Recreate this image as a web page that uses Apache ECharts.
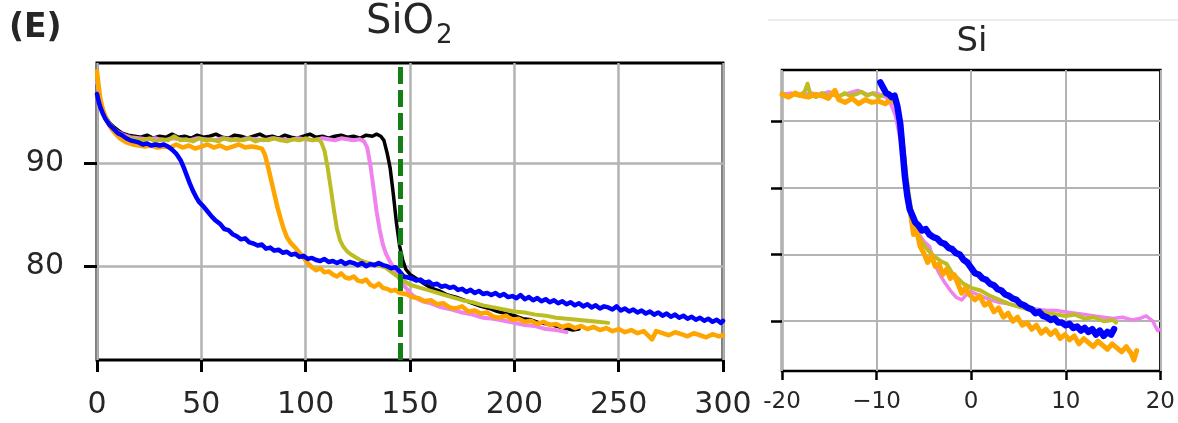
<!DOCTYPE html>
<html>
<head>
<meta charset="utf-8">
<script src="https://cdn.jsdelivr.net/npm/echarts@6/dist/echarts.min.js"></script>
<style>
  html, body { margin: 0; padding: 0; background: #fff; }
  #chart { width: 1178px; height: 423px; }
</style>
</head>
<body>
<div id="chart"></div>
<script>
// SiO2 panel (left) - [time, value]
const sio2Black = [[0,97.6],[1,96.2],[2,95.4],[4,94.5],[6,93.9],[8,93.5],[10,93.2],[12,92.9],[15,92.7],[18,92.6],[21,92.5],[24,92.7],[27,92.4],[30,92.6],[33,92.5],[36,92.8],[39,92.5],[42,92.6],[45,92.4],[48,92.7],[51,92.5],[54,92.6],[57,92.8],[60,92.5],[63,92.4],[66,92.7],[69,92.6],[72,92.4],[75,92.6],[78,92.8],[81,92.5],[84,92.6],[87,92.4],[90,92.7],[93,92.5],[96,92.4],[99,92.6],[102,92.8],[105,92.5],[108,92.6],[111,92.4],[114,92.6],[117,92.7],[120,92.5],[123,92.6],[126,92.4],[129,92.7],[132,92.6],[134,92.8],[136,92.6],[137.5,92.2],[139,91.0],[140.5,89.5],[142,87.0],[143.5,84.2],[145,82.0],[146.5,80.6],[148,79.7],[150,79.2],[153,78.8],[156,78.4],[160,77.9],[164,77.6],[168,77.2],[172,77.0],[176,76.7],[180,76.4],[184,76.1],[188,75.9],[192,75.6],[196,75.4],[200,75.2],[204,74.9],[208,74.8],[212,74.5],[216,74.4],[220,74.2],[224,74.0],[228,73.8],[231,73.9]];

const sio2Violet = [[0,97.8],[1,96.4],[2,95.5],[4,94.4],[6,93.7],[8,93.3],[10,93.0],[13,92.7],[16,92.5],[20,92.4],[24,92.3],[28,92.4],[32,92.2],[36,92.4],[40,92.3],[44,92.2],[48,92.4],[52,92.3],[56,92.2],[60,92.4],[64,92.3],[68,92.2],[72,92.4],[76,92.3],[80,92.2],[84,92.4],[88,92.3],[92,92.2],[96,92.4],[100,92.3],[104,92.2],[108,92.4],[111,92.3],[114,92.2],[117,92.4],[120,92.3],[123,92.2],[126,92.3],[128,92.1],[129.5,91.5],[131,89.8],[132.5,87.6],[134,85.3],[135.5,83.5],[137,82.1],[138.5,81.2],[140,80.6],[142,79.9],[144,79.1],[146,78.4],[148,77.9],[150,77.4],[153,76.9],[156,76.6],[160,76.4],[165,76.0],[170,75.8],[175,75.5],[180,75.3],[185,75.0],[190,74.9],[195,74.7],[200,74.5],[205,74.3],[210,74.2],[215,73.9],[220,73.8],[225,73.6]];

const sio2Olive = [[0,98.4],[1,96.8],[2,95.7],[4,94.6],[6,93.8],[8,93.3],[10,92.9],[13,92.6],[16,92.4],[19,92.3],[22,92.2],[25,92.4],[28,92.1],[31,92.3],[34,92.2],[37,92.6],[40,92.2],[43,92.3],[46,92.1],[49,92.4],[52,92.2],[55,92.3],[58,92.1],[61,92.4],[64,92.2],[67,92.3],[70,92.2],[73,92.4],[76,92.1],[79,92.3],[82,92.2],[85,92.4],[88,92.2],[91,92.1],[94,92.3],[97,92.2],[100,92.4],[103,92.2],[106,92.3],[107.5,92.0],[109,91.2],[110.5,89.6],[112,87.6],[113.5,85.5],[115,83.6],[116.5,82.5],[118,81.9],[120,81.4],[122,81.1],[124.5,80.8],[127,80.5],[130,80.3],[134,80.1],[138,79.9],[142,79.3],[146,78.7],[150,78.2],[155,77.9],[160,77.6],[165,77.3],[170,77.0],[175,76.7],[180,76.5],[185,76.2],[190,76.0],[195,75.8],[200,75.6],[205,75.5],[210,75.3],[215,75.2],[220,75.0],[225,74.9],[230,74.8],[235,74.7],[240,74.6],[245,74.5]];

const sio2Orange = [[0,98.9],[0.8,97.5],[1.6,96.2],[3,95.0],[5,94.0],[7,93.3],[9,92.8],[11,92.4],[14,92.0],[17,91.8],[20,91.7],[23,91.6],[26,91.7],[29,91.5],[32,91.6],[35,91.5],[38,91.8],[41,91.5],[44,91.7],[47,91.4],[50,91.6],[53,91.8],[56,91.5],[59,91.7],[62,91.4],[65,91.6],[68,91.8],[71,91.5],[74,91.6],[77,91.5],[79,91.4],[80.5,90.8],[82,89.6],[83.5,88.3],[85,87.0],[86.5,85.7],[88,84.6],[89.5,83.6],[91,82.8],[93,82.2],[95,81.8],[97,81.3],[99,80.8],[101,80.3],[103,79.9],[105,79.6],[107,79.8],[109,79.4],[111,79.5],[113,79.2],[115,79.0],[117,79.3],[119,78.9],[121,78.8],[123,79.0],[125,78.6],[127,78.5],[129,78.7],[131,78.2],[133,78.0],[135,78.3],[137,77.9],[139,77.8],[141,77.6],[143,77.7],[145,77.4],[148,77.3],[151,77.0],[154,76.9],[157,76.6],[160,76.7],[163,76.3],[166,76.4],[169,76.0],[172,75.9],[175,76.1],[178,75.6],[181,75.7],[184,75.4],[187,75.5],[190,75.1],[193,75.0],[196,75.2],[199,74.8],[202,74.9],[205,74.6],[208,74.7],[211,74.4],[214,74.6],[217,74.3],[220,74.4],[223,74.1],[226,74.3],[229,74.0],[232,74.2],[235,73.9],[238,74.1],[241,73.8],[244,74.0],[247,73.7],[250,73.9],[253,73.6],[256,73.8],[259,73.5],[262,73.7],[266,72.9],[268,73.7],[271,73.5],[274,73.3],[277,73.6],[280,73.4],[283,73.2],[286,73.5],[289,73.3],[292,73.1],[295,73.4],[298,73.2],[300,73.3]];

const sio2Blue = [[0,96.7],[1,95.8],[2,95.2],[3,94.7],[4,94.3],[6,93.7],[8,93.3],[10,92.9],[12,92.7],[14,92.4],[16,92.2],[18,92.1],[20,92.0],[22,91.8],[24,91.9],[26,91.7],[28,91.8],[30,91.7],[32,91.8],[34,91.6],[36,91.3],[38,90.9],[40,90.3],[41.5,89.6],[43,88.8],[44.5,88.0],[46,87.3],[47.5,86.7],[49,86.2],[51,85.8],[53,85.3],[55,84.8],[57,84.4],[59,84.1],[61,83.6],[63,83.5],[65,83.1],[67,82.9],[69,82.6],[71,82.7],[73,82.3],[75,82.2],[77,82.0],[79,82.1],[81,81.7],[83,81.8],[85,81.5],[87,81.6],[89,81.3],[91,81.4],[93,81.1],[95,81.2],[97,80.9],[99,81.0],[101,80.7],[103,80.8],[105,80.6],[107,80.5],[109,80.7],[111,80.4],[113,80.5],[115,80.3],[117,80.5],[119,80.2],[121,80.4],[123,80.3],[125,80.1],[127,80.3],[129,80.0],[131,80.2],[133,80.1],[135,80.3],[137,80.1],[139,80.0],[141,79.8],[143,79.9],[145,79.5],[147,79.0],[149,78.9],[151,78.8],[153,78.6],[155,78.7],[157,78.4],[159,78.5],[161,78.2],[163,78.3],[165,78.0],[167,78.1],[169,77.9],[171,78.0],[173,77.7],[175,77.8],[177,77.5],[179,77.7],[181,77.4],[183,77.6],[185,77.3],[187,77.4],[189,77.2],[191,77.4],[193,77.1],[195,77.3],[197,77.0],[199,77.1],[201,76.9],[203,77.2],[205,76.8],[207,77.0],[209,76.7],[211,76.9],[213,76.6],[215,76.8],[217,76.5],[219,76.7],[221,76.4],[223,76.6],[225,76.3],[227,76.5],[229,76.2],[231,76.4],[233,76.1],[235,76.3],[237,76.0],[239,76.2],[241,75.9],[243,76.1],[245,76.0],[247,75.8],[249,76.1],[251,75.7],[253,75.9],[255,75.6],[257,75.8],[259,75.5],[261,75.7],[263,75.4],[265,75.6],[267,75.3],[269,75.5],[271,75.2],[273,75.4],[275,75.1],[277,75.3],[279,75.0],[281,75.2],[283,74.9],[285,75.1],[287,74.8],[289,75.0],[291,74.7],[293,74.9],[295,74.6],[297,74.8],[299,74.5],[300,74.7]];

const sio2MarkerX = 145.5;   // dashed green line

// Si panel (right) - [shift, value]
const siViolet = [[-20,92.0],[-19,92.1],[-18,91.9],[-17,92.1],[-16,92.0],[-15,92.2],[-14,91.9],[-13,92.1],[-12,92.3],[-11,92.0],[-10,92.1],[-9,91.8],[-8.5,91.3],[-8,90.4],[-7.5,88.6],[-7,86.0],[-6.6,84.0],[-6.2,82.5],[-5.6,81.6],[-5,81.0],[-4.4,80.6],[-3.9,79.4],[-3.4,78.6],[-2.8,77.9],[-2.2,77.3],[-1.6,76.8],[-1,76.6],[-0.5,77.0],[0,77.2],[1,76.9],[2,76.6],[3,76.4],[4,76.3],[5,76.1],[6,76.0],[7,75.9],[8,75.8],[9,75.8],[10,75.7],[11,75.6],[12,75.5],[13,75.4],[14,75.3],[15,75.2],[16,75.3],[17,75.1],[17.8,75.2],[18.5,75.4],[19.2,75.0],[19.7,74.3],[20,74.4]];

const siOlive = [[-20,92.1],[-19.4,91.8],[-18.8,92.0],[-18.2,91.9],[-17.6,92.2],[-17.3,92.8],[-17,92.0],[-16.4,91.8],[-15.8,92.1],[-15.2,91.9],[-14.6,92.0],[-14,91.8],[-13.4,92.1],[-12.8,91.9],[-12.2,92.0],[-11.6,92.2],[-11,91.9],[-10.4,92.1],[-9.8,91.8],[-9.2,92.0],[-8.6,91.9],[-8,91.7],[-7.6,90.6],[-7.2,88.2],[-6.8,85.6],[-6.4,83.6],[-6,82.3],[-5.5,81.3],[-5,80.7],[-4.4,80.2],[-3.8,79.8],[-3.2,79.5],[-2.6,79.3],[-2,78.6],[-1.4,78.2],[-0.8,77.8],[0,77.5],[1,77.3],[2,76.9],[3,76.6],[4,76.3],[5,76.1],[6,75.9],[7,75.8],[8,75.6],[9,75.5],[10,75.4],[11,75.5],[12,75.2],[13,75.3],[14,75.0],[15,75.1],[15.3,74.9]];

const siOrange = [[-20,92.0],[-19.3,91.8],[-18.6,92.1],[-17.9,91.9],[-17.2,91.8],[-16.5,92.0],[-15.8,91.9],[-15.1,91.7],[-14.4,92.3],[-14,91.6],[-13.3,91.4],[-12.6,91.7],[-11.9,91.3],[-11.2,91.6],[-10.5,91.4],[-9.8,91.5],[-9.1,91.3],[-8.4,91.6],[-7.9,91.3],[-7.6,90.4],[-7.3,88.6],[-7.0,86.3],[-6.7,84.5],[-6.4,83.0],[-6.1,81.5],[-5.8,81.9],[-5.4,80.6],[-5.0,80.1],[-4.6,79.4],[-4.2,79.9],[-3.8,79.1],[-3.4,79.3],[-3.0,78.5],[-2.6,78.9],[-2.2,78.2],[-1.8,78.5],[-1.4,77.8],[-1.0,77.1],[-0.6,77.5],[-0.2,77.0],[0.4,76.6],[0.9,76.9],[1.4,76.2],[1.9,76.4],[2.4,75.7],[2.9,76.0],[3.4,75.3],[3.9,75.6],[4.4,75.0],[4.9,75.3],[5.4,74.7],[5.9,74.9],[6.4,74.4],[6.9,74.7],[7.4,74.1],[7.9,74.4],[8.4,74.0],[8.9,74.3],[9.4,73.7],[9.9,74.0],[10.4,73.6],[10.9,73.9],[11.4,73.3],[11.9,73.7],[12.4,73.4],[12.9,73.1],[13.4,73.5],[13.9,73.2],[14.4,72.9],[14.9,73.3],[15.4,73.0],[15.9,72.7],[16.4,73.1],[16.9,72.6],[17.2,72.1],[17.5,72.8]];

const siBlue = [[-9.6,92.9],[-9.3,92.5],[-9.0,92.1],[-8.7,92.0],[-8.4,91.8],[-8.1,91.9],[-7.8,91.1],[-7.5,89.8],[-7.25,87.8],[-7.0,85.8],[-6.75,84.4],[-6.5,83.4],[-6.2,82.9],[-5.9,82.4],[-5.6,82.2],[-5.2,81.8],[-4.8,81.9],[-4.4,81.5],[-4.0,81.3],[-3.6,81.2],[-3.2,80.9],[-2.8,80.8],[-2.4,80.5],[-2.0,80.4],[-1.6,80.1],[-1.2,80.0],[-0.8,79.6],[-0.4,79.4],[0,79.0],[0.4,78.6],[0.8,78.5],[1.2,78.2],[1.6,78.1],[2.0,77.8],[2.4,77.7],[2.8,77.4],[3.2,77.3],[3.6,77.0],[4.0,76.9],[4.4,76.7],[4.8,76.6],[5.2,76.3],[5.6,76.2],[6.0,76.0],[6.4,75.9],[6.8,75.6],[7.2,75.7],[7.6,75.4],[8.0,75.3],[8.4,75.1],[8.8,75.2],[9.2,74.9],[9.6,74.9],[10.0,74.7],[10.4,74.8],[10.8,74.5],[11.2,74.6],[11.6,74.3],[12.0,74.5],[12.4,74.2],[12.8,74.4],[13.2,74.0],[13.6,74.3],[14.0,73.9],[14.4,74.2],[14.8,74.0],[15.1,74.4]];

const sio2YTicks = [80, 90];
const siYTicks = [75, 80, 85, 90];

const FONT = 'DejaVu Sans';
const TEXT = '#262626';
const GRIDLINE = '#b3b3b3';

const chart = echarts.init(document.getElementById('chart'), null, { renderer: 'canvas' });

function line(name, data, color, width, axis) {
    return {
        name: name,
        type: 'line',
        xAxisIndex: axis,
        yAxisIndex: axis,
        data: data,
        symbol: 'none',
        lineStyle: { color: color, width: width, join: 'round', cap: 'round' },
        itemStyle: { color: color },
        animation: false,
        silent: true
    };
}

const tickStyle = (len, w) => ({ show: true, inside: false, length: len, lineStyle: { color: '#000', width: w } });

const option = {
    backgroundColor: '#fff',
    animation: false,
    grid: [
        { left: 97, top: 63, width: 626, height: 297, show: true, borderColor: '#000', borderWidth: 3, backgroundColor: 'transparent' },
        { left: 782, top: 70, width: 381, height: 301, show: true, borderColor: '#000', borderWidth: 2.5, backgroundColor: 'transparent' }
    ],
    xAxis: [
        {
            gridIndex: 0, type: 'value', min: 0, max: 300, interval: 50,
            axisLine: { show: false, onZero: false },
            axisTick: tickStyle(12, 3),
            axisLabel: { fontSize: 30, fontFamily: FONT, color: TEXT, margin: 30 },
            splitLine: { show: true, lineStyle: { color: GRIDLINE, width: 2.5 } }
        },
        {
            gridIndex: 1, type: 'value', min: -20, max: 20, interval: 10,
            axisLine: { show: false, onZero: false },
            axisTick: tickStyle(9, 2.5),
            axisLabel: {
                fontSize: 23, fontFamily: FONT, color: TEXT, margin: 20,
                formatter: v => (v === -20 ? '-20' : String(v).replace('-', '\u2212'))
            },
            splitLine: { show: true, lineStyle: { color: GRIDLINE, width: 2 } }
        }
    ],
    yAxis: [
        {
            gridIndex: 0, type: 'value', min: 70.9, max: 99.7,
            axisLine: { show: false, onZero: false },
            axisTick: Object.assign(tickStyle(13, 3), { customValues: sio2YTicks }),
            axisLabel: { fontSize: 30, fontFamily: FONT, color: TEXT, margin: 33, customValues: sio2YTicks },
            splitLine: { show: true, lineStyle: { color: GRIDLINE, width: 2.5 } }
        },
        {
            gridIndex: 1, type: 'value', min: 71.27, max: 93.83,
            axisLine: { show: false, onZero: false },
            axisTick: Object.assign(tickStyle(11, 2.5), { customValues: siYTicks }),
            axisLabel: { show: false, customValues: siYTicks },
            splitLine: { show: true, lineStyle: { color: GRIDLINE, width: 2 } }
        }
    ],
    series: [
        line('black', sio2Black, '#000000', 3.5, 0),
        line('violet', sio2Violet, '#ee82ee', 4, 0),
        line('olive', sio2Olive, '#bcbd22', 4, 0),
        line('orange', sio2Orange, '#ffa500', 4.5, 0),
        line('blue', sio2Blue, '#0000ff', 4.5, 0),
        {
            name: 'marker', type: 'line', xAxisIndex: 0, yAxisIndex: 0, data: [],
            markLine: {
                silent: true, animation: false, symbol: ['none', 'none'],
                label: { show: false },
                lineStyle: { color: '#138013', width: 5, type: [17, 6] },
                data: [{ xAxis: sio2MarkerX }]
            }
        },
        line('violet', siViolet, '#ee82ee', 3.5, 1),
        line('olive', siOlive, '#bcbd22', 4, 1),
        line('orange', siOrange, '#ffa500', 5, 1),
        line('blue', siBlue, '#0000ff', 6.5, 1)
    ],
    graphic: [
        { type: 'line', shape: { x1: 768, y1: 20, x2: 1178, y2: 20 }, style: { stroke: '#ececec', lineWidth: 2 }, silent: true },
        { type: 'text', x: 9, y: 28, style: { text: '(E)', font: 'bold 33px "DejaVu Sans"', fill: TEXT, textVerticalAlign: 'middle' } },
        { type: 'text', x: 366, y: 23, style: { text: 'SiO', font: '40px "DejaVu Sans"', fill: TEXT, textVerticalAlign: 'middle' } },
        { type: 'text', x: 436, y: 36, style: { text: '2', font: '26px "DejaVu Sans"', fill: TEXT, textVerticalAlign: 'middle' } },
        { type: 'text', x: 972, y: 42, style: { text: 'Si', font: '34px "DejaVu Sans"', fill: TEXT, textAlign: 'center', textVerticalAlign: 'middle' } }
    ]
};

chart.setOption(option);
</script>
</body>
</html>
